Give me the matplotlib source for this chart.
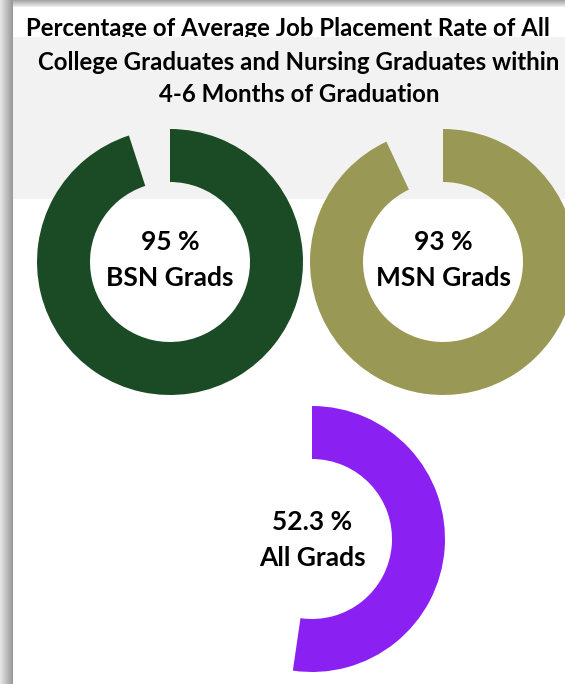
import matplotlib.pyplot as plt
import numpy as np

plt.rcParams['font.family'] = ['Lato', 'DejaVu Sans']

title_lines = ["Percentage of Average Job Placement Rate of All",
               "College Graduates and Nursing Graduates within",
               "4-6 Months of Graduation"]
groups = ["BSN Grads", "MSN Grads", "All Grads"]
rates = [95, 93, 52.3]
colors = ["#1a4b24", "#999855", "#8b20f3"]

W, H = 565, 684
fig = plt.figure(figsize=(W / 100, H / 100), dpi=100)
ax = fig.add_axes([0, 0, 1, 1])

# donut centers in pixel coords (y measured from top)
centers = [(170, 262), (443, 262), (312, 539)]
R, r_in = 133, 80

# light gray header band
ax.add_patch(plt.Rectangle((13, H - 199), W - 13, 162, color="#f2f2f2", zorder=1, lw=0))

for name, val, col, (cx, cy) in zip(groups, rates, colors, centers):
    ax.pie([val, 100 - val], colors=[col, "none"], startangle=90, counterclock=False,
           center=(cx, H - cy), radius=R, wedgeprops=dict(width=R - r_in, lw=0),
           frame=True)
    ty = cy if cy < 400 else cy + 3
    ax.text(cx, H - ty + 20, f"{val:g} %", ha="center", va="center",
            fontsize=19, fontweight="bold", zorder=5)
    ax.text(cx, H - ty - 16, name, ha="center", va="center",
            fontsize=19, fontweight="bold", zorder=5)

# title (first line partly hidden under the gray band, as in the screenshot)
ax.text(288, H - 29, title_lines[0], ha="center", va="center", fontsize=17.3,
        fontweight="bold", zorder=0.5)
ax.text(299, H - 62, title_lines[1], ha="center", va="center", fontsize=17.3,
        fontweight="bold", zorder=5)
ax.text(299, H - 94, title_lines[2], ha="center", va="center", fontsize=17.3,
        fontweight="bold", zorder=5)

# screenshot shadow on left and top
grad = np.linspace(0.9, 0.6, 13)[None, :]
ax.imshow(grad, extent=(0, 13, 0, H), cmap="gray", vmin=0, vmax=1, aspect="auto", zorder=6)
gtop = np.linspace(0.65, 0.92, 7)[:, None]
ax.imshow(gtop, extent=(13, W, H - 7, H), cmap="gray", vmin=0, vmax=1, aspect="auto", zorder=6)

ax.set_xlim(0, W)
ax.set_ylim(0, H)
ax.set_aspect("auto")
ax.axis("off")

fig.savefig("out.png", dpi=100)
